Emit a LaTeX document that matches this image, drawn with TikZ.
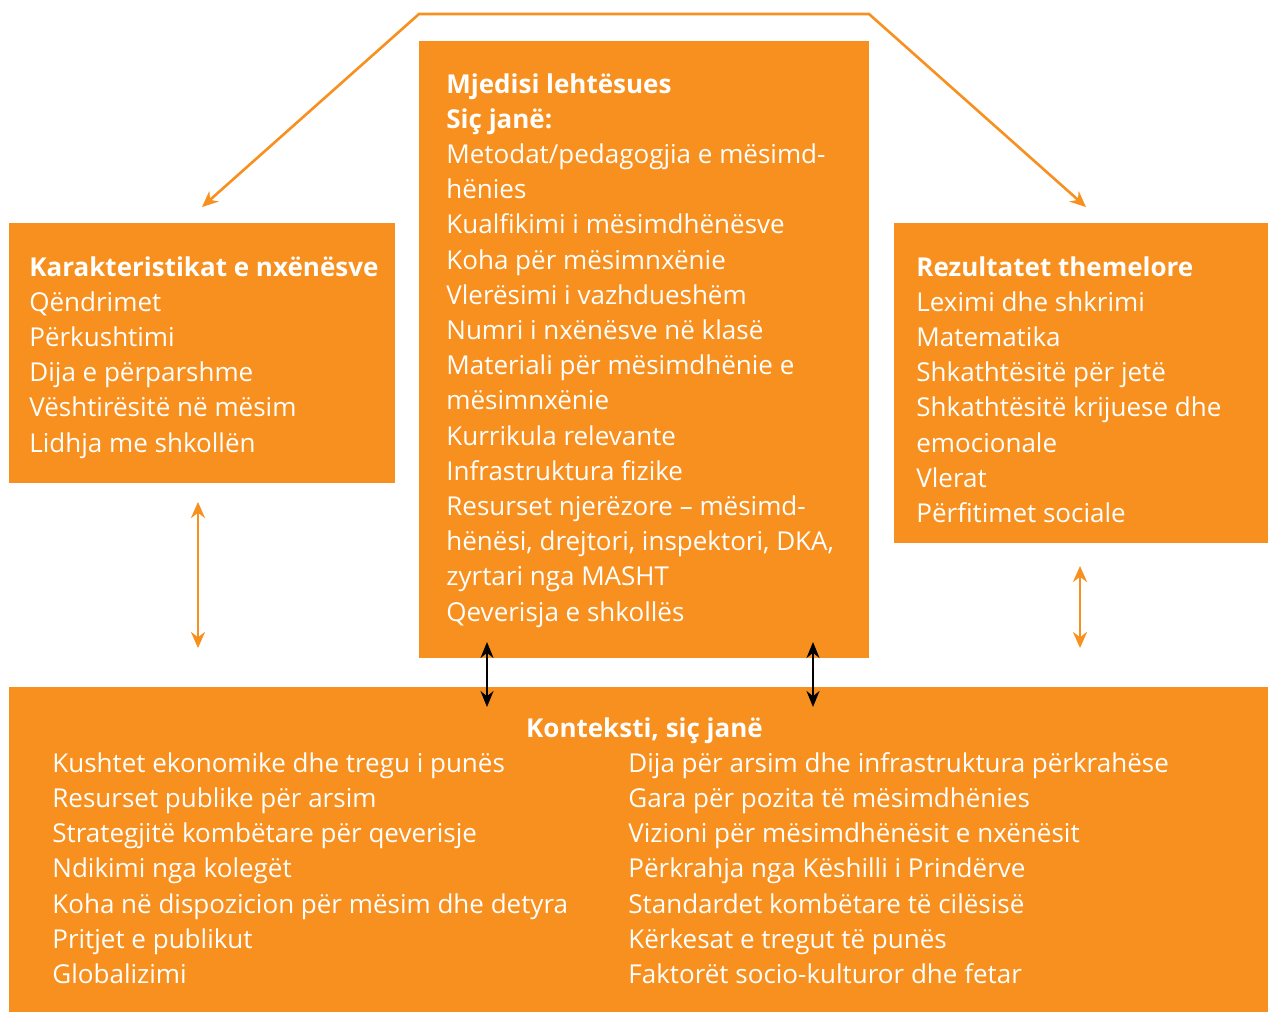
\documentclass[tikz,border=0pt]{standalone}
\usepackage{fontspec}
\setmainfont{Open Sans}
\usepackage{tikz}
\usetikzlibrary{arrows.meta,positioning,calc}
\definecolor{korange}{HTML}{F7901E}

\begin{document}
\begin{tikzpicture}[x=0.5pt, y=-0.5pt,
    box/.style={fill=korange, draw=none, inner sep=0pt},
    txt/.style={anchor=base west, inner sep=0pt, text=white, font=\fontsize{13}{17.6}\selectfont},
    ttl/.style={txt, font=\fontsize{13}{17.6}\selectfont\bfseries},
    olink/.style={korange, line width=1.3pt, {Stealth[length=8pt,width=7pt]}-{Stealth[length=8pt,width=7pt]}},
    klink/.style={black, line width=1pt, {Stealth[length=8pt,width=6.5pt]}-{Stealth[length=8pt,width=6.5pt]}}]
    \useasboundingbox (0,0) rectangle (1268,1012);

    % Boxes
    \node[box, minimum width=193pt, minimum height=130pt] (lbox) at (202,353) {};
    \node[box, minimum width=225pt, minimum height=308.5pt] (cbox) at (644,349.5) {};
    \node[box, minimum width=187pt, minimum height=160pt] (rbox) at (1081,383) {};
    \node[box, minimum width=629.5pt, minimum height=162.5pt] (bbox) at (638.5,849.5) {};

    % Left box
    \node[ttl] (ltitle) at (29,276) {Karakteristikat e nxënësve};
    \foreach \t [count=\i] in {Qëndrimet, Përkushtimi, Dija e përparshme,
        Vështirësitë në mësim, Lidhja me shkollën}
        \node[txt] (l\i) at (29,276+35.2*\i) {\t};

    % Center box
    \node[ttl] (ctitle) at (446,93) {Mjedisi lehtësues};
    \node[ttl] (csub) at (446,128.2) {Siç janë:};
    \foreach \t [count=\i] in {Metodat/pedagogjia e mësimd-, hënies,
        Kualfikimi i mësimdhënësve, Koha për mësimnxënie,
        Vlerësimi i vazhdueshëm, Numri i nxënësve në klasë,
        Materiali për mësimdhënie e, mësimnxënie, Kurrikula relevante,
        Infrastruktura fizike, Resurset njerëzore – mësimd-,
        {hënësi, drejtori, inspektori, DKA,}, zyrtari nga MASHT,
        Qeverisja e shkollës}
        \node[txt] (c\i) at (446,128.2+35.2*\i) {\t};

    % Right box
    \node[ttl] (rtitle) at (916,276) {Rezultatet themelore};
    \foreach \t [count=\i] in {Leximi dhe shkrimi, Matematika,
        Shkathtësitë për jetë, Shkathtësitë krijuese dhe, emocionale,
        Vlerat, Përfitimet sociale}
        \node[txt] (r\i) at (916,276+35.2*\i) {\t};

    % Bottom box
    \node[ttl, anchor=base] (btitle) at (644.5,737) {Konteksti, siç janë};
    \foreach \t [count=\i] in {Kushtet ekonomike dhe tregu i punës,
        Resurset publike për arsim, Strategjitë kombëtare për qeverisje,
        Ndikimi nga kolegët, Koha në dispozicion për mësim dhe detyra,
        Pritjet e publikut, Globalizimi}
        \node[txt] (bl\i) at (52,737+35.2*\i) {\t};
    \foreach \t [count=\i] in {Dija për arsim dhe infrastruktura përkrahëse,
        Gara për pozita të mësimdhënies, Vizioni për mësimdhënësit e nxënësit,
        Përkrahja nga Këshilli i Prindërve, Standardet kombëtare të cilësisë,
        Kërkesat e tregut të punës, Faktorët socio-kulturor dhe fetar}
        \node[txt] (br\i) at (628,737+35.2*\i) {\t};

    % Connectors
    \coordinate (ltip) at (202,207);
    \coordinate (rtip) at (1086,207);
    \coordinate (tl) at (419,14);
    \coordinate (tr) at (869,14);
    \draw[olink] (ltip) -- (tl) -- (tr) -- (rtip);

    \coordinate (la) at (198,502);
    \coordinate (lb) at (198,648);
    \draw[olink] (la) -- (lb);
    \coordinate (ra) at (1080,566);
    \coordinate (rb) at (1080,648);
    \draw[olink] (ra) -- (rb);

    \coordinate (ka) at (487,642);
    \coordinate (kb) at (487,707);
    \draw[klink] (ka) -- (kb);
    \coordinate (kc) at (813,642);
    \coordinate (kd) at (813,707);
    \draw[klink] (kc) -- (kd);
\end{tikzpicture}
\end{document}
